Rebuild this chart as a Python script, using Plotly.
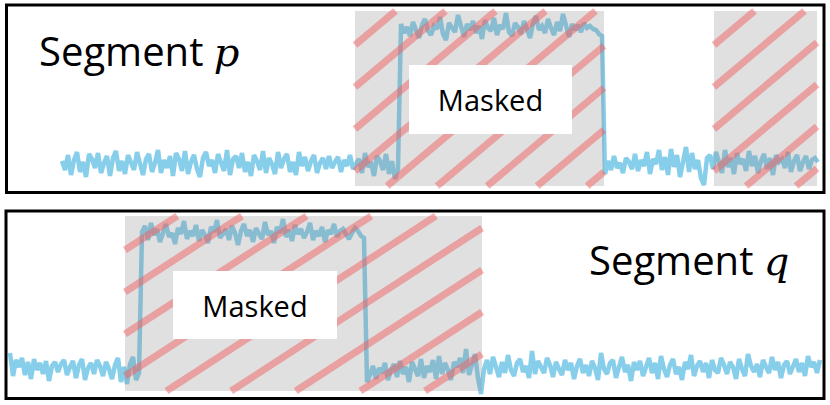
import plotly.graph_objects as go

W, H = 830, 405

# ---- signal of segment p (top): baseline / plateau / baseline, one sample every 3 px
P_LOW_A = [3, -6, 9, -11, 4, 12, -8, 2, -13, 10,
           5, -4, 11, -9, 1, 8, -12, 6, 13, -7,
           3, -10, 9, 2, -6, 12, -2, -11, 5, 10,
           -8, 1, 14, -9, 4, -4, 8, -12, 11, 5,
           -7, 13, -10, 2, 9, -5, -13, 6, 12, -2,
           4, -9, 10, 0, -7, 14, -11, 5, 8, -4,
           11, -8, 2, -12, 9, 3, -6, 13, -9, 6,
           0, -10, 12, -4, 5, 10, -8, 2, -11, 12,
           -2, 7, -7, 3, 9, -9, 1, 6, -5, 8,
           -4, 2, 7, -8, 4, -2, 9, -5, 1, 5,
           -9, 11, -3, 2, -12, 8, 3, -6, 10, -10,
           3, -15, -5]
P_HIGH = [140, 131, 137, 128, 142, 134, 126, 139, 145, 133,
          129, 138, 135, 147, 130, 124, 141, 136, 132, 149,
          137, 127, 140, 134, 143, 131, 138, 125, 144, 136,
          133, 146, 129, 139, 135, 151, 132, 128, 141, 137,
          130, 143, 135, 126, 140, 148, 134, 138, 131, 145,
          136, 129, 142, 133, 150, 137, 127, 140, 134, 139,
          132, 141, 136, 138, 135, 134, 130, 128]
P_LOW_B = [-10, 3, -6, 8, -4, 1, -9, 6, 2, -5,
           10, -7, 4, -2, 12, -10, 5, 0, 14, -6,
           7, -11, 15, -3, 9, -13, 5, 17, -8, 11,
           -5, 4, -14, -21, 6, 9, -5, 12, 2, -9,
           14, -3, 6, -10, 11, 0, 5, -7, 13, -2,
           8, -9, 3, 10, -5, 6, -11, 9, 2, 5,
           -4, 12, -8, 3, 9, -7, 2, 8, -5, 4,
           6, 2]

# ---- signal of segment q (bottom)
Q_LOW_A = [17, -6, 10, 3, 12, -5, 8, -9, 11, 0,
           7, -4, 9, -11, 4, 8, -2, 6, 10, -5,
           3, 9, -8, 5, 11, -10, 2, 7, -4, 10,
           4, -6, 8, 1, -9, 5, 12, -12, 3, -14,
           6, 13, -10, -3]
Q_HIGH = [138, 144, 130, 147, 135, 141, 128, 139, 146, 133,
          137, 126, 142, 136, 149, 131, 139, 134, 145, 129,
          140, 135, 127, 143, 138, 150, 132, 136, 141, 130,
          144, 137, 125, 139, 146, 134, 140, 128, 142, 136,
          131, 148, 135, 139, 127, 143, 137, 151, 133, 140,
          129, 145, 136, 141, 132, 138, 147, 130, 139, 134,
          143, 128, 140, 136, 146, 133, 139, 141, 135, 131,
          137, 142, 139, 134, 132]
Q_LOW_B = [-12, -5, 4, -9, 2, -3, 7, -10, 0, 6,
           -7, 9, -4, 3, -12, 8, 1, -6, 11, -8,
           4, -2, 10, -9, 14, -4, 7, 0, -10, 8,
           3, 12, -3, 21, -5, 4, 16, -8, -24, 1,
           10, -4, 13, 3, -7, 8, -3, 15, 0, -6,
           7, 11, -2, 4, -8, 19, -4, 9, 2, -3,
           12, 5, -7, 8, 1, -5, 10, 0, 7, -9,
           4, 11, -3, 5, -6, 9, 2, -10, 17, 1,
           -4, 7, 10, -8, 3, 13, -2, 5, -11, 8,
           0, 9, -6, 4, 12, -3, 7, -9, 14, 1,
           -7, 5, 11, -4, 3, -10, 8, 1, 15, -6,
           4, 9, -2, 7, -8, 10, 0, -3, 12, 5,
           -4, 8, 3, -9, 11, 1, -6, 16, 4, -2,
           6, -7, 10, 3, -3, 13, 0, 8, -8, 5,
           9, -4, 4, 11, -2, 7, -6, 14, 3, 8,
           -3, 10]

# masked spans (sample index) and their vertical extent (signal units)
P_MASKS = [(97.67, 180.67), (217.33, 251.67)]
P_MASK_Y = (-22, 153)
Q_MASKS = [(38.33, 157.33)]
Q_MASK_Y = (-21, 154)

SKY = '#87CEEB'
GRAY = 'rgba(140,140,140,0.27)'
RED = 'rgba(242,95,95,0.5)'
FONT = 'Open Sans'


def stripes(x0, x1, ybot, ytop, slope, phase=34, gap=42, px=3.0):
    """diagonal hatch lines clipped to a mask rectangle"""
    w = (x1 - x0) * px
    h = ytop - ybot
    segs = []
    c = phase
    while c < h + slope * w:
        ua = max(0.0, (c - h) / slope)
        ub = min(w, c / slope)
        if ub > ua:
            segs.append((x0 + ua / px, ytop - (c - slope * ua),
                         x0 + ub / px, ytop - (c - slope * ub)))
        c += gap
    return segs


# panel boxes in pixels (left, top, right, bottom)
BOX_P = (6.5, 5, 824, 192.4)
BOX_Q = (6, 211, 824, 398.5)


def dom(box):
    l, t, r, b = box
    return [l / W, r / W], [1 - b / H, 1 - t / H]


fig = go.Figure()

p_sig = P_LOW_A + P_HIGH + P_LOW_B
q_sig = Q_LOW_A + Q_HIGH + Q_LOW_B

fig.add_trace(go.Scatter(x=list(range(len(p_sig))), y=p_sig, mode='lines',
                         line=dict(color=SKY, width=4.5), xaxis='x', yaxis='y',
                         showlegend=False, hoverinfo='skip'))
fig.add_trace(go.Scatter(x=list(range(len(q_sig))), y=q_sig, mode='lines',
                         line=dict(color=SKY, width=4.5), xaxis='x2', yaxis='y2',
                         showlegend=False, hoverinfo='skip'))

shapes = []
for masks, (yb, yt), ax, slope in [(P_MASKS, P_MASK_Y, '', 0.84), (Q_MASKS, Q_MASK_Y, '2', 0.65)]:
    for x0, x1 in masks:
        shapes.append(dict(type='rect', xref='x' + ax, yref='y' + ax, x0=x0, x1=x1, y0=yb, y1=yt,
                           fillcolor=GRAY, line=dict(width=0), layer='above'))
        for sx0, sy0, sx1, sy1 in stripes(x0, x1, yb, yt, slope):
            shapes.append(dict(type='line', xref='x' + ax, yref='y' + ax,
                               x0=sx0, y0=sy0, x1=sx1, y1=sy1,
                               line=dict(color=RED, width=7), layer='above'))

for box in (BOX_P, BOX_Q):
    (xa, xb), (ya, yb) = dom(box)
    shapes.append(dict(type='rect', xref='paper', yref='paper', x0=xa, x1=xb, y0=ya, y1=yb,
                       line=dict(color='black', width=3), layer='above'))

xd, yd = dom(BOX_P)
xd2, yd2 = dom(BOX_Q)
fig.update_layout(
    width=W, height=H,
    margin=dict(l=0, r=0, t=0, b=0),
    paper_bgcolor='white', plot_bgcolor='rgba(0,0,0,0)',
    xaxis=dict(domain=xd, range=[(BOX_P[0] - 62) / 3, (BOX_P[2] - 62) / 3], visible=False),
    yaxis=dict(domain=yd, range=[164 - BOX_P[3], 164 - BOX_P[1]], visible=False),
    xaxis2=dict(domain=xd2, range=[(BOX_Q[0] - 10) / 3, (BOX_Q[2] - 10) / 3], visible=False, anchor='y2'),
    yaxis2=dict(domain=yd2, range=[370 - BOX_Q[3], 370 - BOX_Q[1]], visible=False, anchor='x2'),
    shapes=shapes,
)

seg = "Segment <i><span style='font-family:DejaVu Serif'>{}</span></i>"
fig.add_annotation(text=seg.format('p'), x=37 / W, y=1 - 51 / H, xref='paper', yref='paper',
                   xanchor='left', yanchor='middle', showarrow=False,
                   font=dict(family=FONT, size=40, color='black'))
fig.add_annotation(text=seg.format('q'), x=791 / W, y=1 - 259 / H, xref='paper', yref='paper',
                   xanchor='right', yanchor='middle', showarrow=False,
                   font=dict(family=FONT, size=40, color='black'))

for cx, cy, bw, bh in [(490.5, 99, 163, 69), (255, 305, 164, 68)]:
    fig.add_annotation(text='Masked', x=cx / W, y=1 - cy / H, xref='paper', yref='paper',
                       xanchor='center', yanchor='middle', showarrow=False,
                       width=bw, height=bh, bgcolor='white', borderpad=0, borderwidth=0,
                       font=dict(family=FONT, size=29, color='black'))

# page body has a default 8px margin; drop it so the figure sits at the window origin
fig.write_html("out.html", config={'displayModeBar': False},
               post_script="document.body.style.margin='0';")
